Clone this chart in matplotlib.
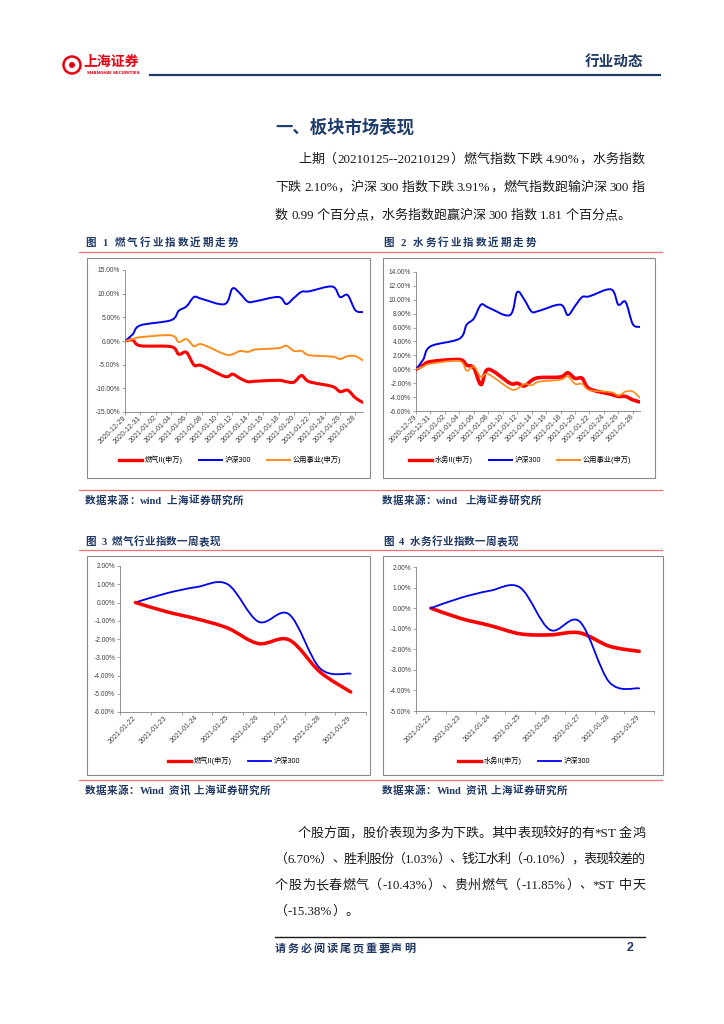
import re
import numpy as np
import matplotlib
matplotlib.use("Agg")
import matplotlib.pyplot as plt
import matplotlib.dates as mdates
from matplotlib.path import Path
from matplotlib.patches import PathPatch, Rectangle, Circle
from matplotlib.lines import Line2D

# ---------------- data ----------------
month_dates = ['2020-12-29', '2020-12-30', '2020-12-31', '2021-01-04', '2021-01-05',
               '2021-01-06', '2021-01-07', '2021-01-08', '2021-01-11', '2021-01-12',
               '2021-01-13', '2021-01-14', '2021-01-15', '2021-01-18', '2021-01-19',
               '2021-01-20', '2021-01-21', '2021-01-22', '2021-01-25', '2021-01-26',
               '2021-01-27', '2021-01-28', '2021-01-29']
hs300_month = [0, 1.4, 3.3, 4.4, 6.4, 7.3, 9.3, 8.9, 7.8, 11.1, 10.0, 8.3,
               8.4, 9.3, 7.8, 9.1, 10.4, 10.5, 11.5, 9.3, 9.7, 6.5, 6.1]
gas_month = [0, 0.2, -1.0, -1.2, -2.8, -2.4, -5.1, -5.2, -7.5, -7.0, -7.9, -8.6,
             -8.5, -8.3, -8.6, -8.7, -7.3, -8.6, -9.6, -10.7, -10.4, -12.0, -13.0]
utility_month = [0, 0.4, 0.8, 1.2, -0.2, 0.4, -1.1, -0.7, -2.8, -2.8, -2.1, -2.3,
                 -1.8, -1.5, -1.0, -2.1, -2.1, -3.0, -3.3, -3.8, -3.2, -3.2, -4.1]
water_month = [0, 0.6, 1.1, 1.4, 0.6, 0.2, -2.2, 0.0, -2.0, -2.0, -2.4, -1.6,
               -1.2, -1.1, -0.5, -1.3, -1.3, -2.8, -3.6, -3.9, -3.9, -4.4, -4.7]

week_dates = ['2021-01-22', '2021-01-23', '2021-01-24', '2021-01-25',
              '2021-01-26', '2021-01-27', '2021-01-28', '2021-01-29']
gas_week = [0, -0.5, -0.9, -1.4, -2.25, -2.05, -3.8, -4.9]
hs300_week = [0, 0.5, 0.85, 1.0, -1.05, -0.65, -3.6, -3.9]
water_week = [0, -0.5, -0.85, -1.25, -1.3, -1.2, -1.85, -2.1]

label_gas = '燃气II(申万)'
label_water = '水务II(申万)'
label_hs = '沪深300'
label_util = '公用事业(申万)'

# ---------------- figure helpers ----------------
W, H = 724, 1024
plt.rcParams['font.family'] = ['Noto Sans CJK SC', 'DejaVu Sans']
fig = plt.figure(figsize=(W / 100, H / 100), dpi=100)
renderer = fig.canvas.get_renderer()

NAVY = '#1F3864'
RED = '#FF0000'
BLUE = '#0000F0'
ORANGE = '#FF8C1A'
SERIF = ['Liberation Serif', 'Noto Sans CJK SC']
SANS = ['Liberation Sans', 'Noto Sans CJK SC']


def fx(x):
    return x / W


def fy(y):
    return 1 - y / H


def ftext(x, y, s, **kw):
    kw.setdefault('va', 'center')
    return fig.text(fx(x), fy(y), s, **kw)


def hline(x0, x1, y, color, lw):
    fig.add_artist(Line2D([fx(x0), fx(x1)], [fy(y), fy(y)],
                          transform=fig.transFigure, color=color, lw=lw))


def box(x0, y0, x1, y1):
    fig.add_artist(Rectangle((fx(x0), fy(y1)), fx(x1) - fx(x0), fy(y0) - fy(y1),
                             transform=fig.transFigure, fill=False,
                             ec='#8a8a8a', lw=0.8))


def add_ax(l, t, r, b):
    return fig.add_axes([fx(l), fy(b), fx(r) - fx(l), fy(t) - fy(b)])


def para_line(x0, x1, y, s, justify=True, size=9.4, color='#1a1a1a',
              weight='normal', family=SERIF, space=3.0):
    """Place a line of text token by token (y = visual middle of the line)."""
    toks = re.findall(r'[!-~]+| +|[^ !-~]', s)
    base = y + 0.36 * size * 100 / 72
    items = []
    for t in toks:
        if t.strip() == '':
            items.append((None, space * len(t)))
        else:
            tx = fig.text(0, 0, t, fontsize=size, family=family, color=color,
                          weight=weight, va='baseline')
            items.append((tx, tx.get_window_extent(renderer).width))
    total = sum(w for _, w in items)
    gaps = len(items) - 1
    extra = (x1 - x0 - total) / gaps if (justify and gaps > 0) else 0.0
    x = x0
    for obj, w in items:
        if obj is not None:
            obj.set_position((fx(x), fy(base)))
        x += w + extra


def smooth(ax, x, y, color, lw, z=3):
    x = np.asarray(x, float)
    y = np.asarray(y, float)
    n = len(x)
    verts = [(x[0], y[0])]
    codes = [Path.MOVETO]
    for i in range(n - 1):
        p0 = i - 1 if i > 0 else i
        p3 = i + 2 if i + 2 < n else i + 1
        c1 = (x[i] + (x[i + 1] - x[p0]) / 6, y[i] + (y[i + 1] - y[p0]) / 6)
        c2 = (x[i + 1] - (x[p3] - x[i]) / 6, y[i + 1] - (y[p3] - y[i]) / 6)
        verts += [c1, c2, (x[i + 1], y[i + 1])]
        codes += [Path.CURVE4] * 3
    ax.add_patch(PathPatch(Path(verts, codes), fill=False, ec=color, lw=lw,
                           capstyle='round', joinstyle='round', zorder=z))


def style_ax(ax, yticks):
    for s in ['top', 'right']:
        ax.spines[s].set_visible(False)
    for s in ['left', 'bottom']:
        ax.spines[s].set_color('#7f7f7f')
        ax.spines[s].set_linewidth(0.6)
    ax.set_facecolor('none')
    ax.set_ylim(yticks[0], yticks[-1])
    ax.set_yticks(yticks)
    ax.set_yticklabels([f'{v:.2f}%' for v in yticks], family='Liberation Sans')
    ax.tick_params(axis='both', which='both', direction='out', length=2, width=0.5,
                   color='#7f7f7f', labelsize=4.8, labelcolor='#404040', pad=1.5)


def legend(ax, handles, labels, cx, cy):
    ax.legend(handles, labels, loc='center', bbox_to_anchor=(fx(cx), fy(cy)),
              bbox_transform=fig.transFigure, ncol=len(labels), frameon=False,
              prop={'family': SANS, 'size': 5.2}, handlelength=3.2,
              handletextpad=0.4, columnspacing=2.2, borderpad=0)


# ---------------- page header ----------------
fig.add_artist(Circle((72 / 100, (H - 65) / 100), 0.085, transform=fig.dpi_scale_trans,
                      fill=False, ec='#E60012', lw=1.8))
fig.add_artist(Circle((72 / 100, (H - 65) / 100), 0.03, transform=fig.dpi_scale_trans,
                      fill=True, fc='#E60012', ec='none'))
ftext(83, 62, '上海证券', fontsize=10, color='#E60012', weight='bold')
ftext(87, 73, 'SHANGHAI SECURITIES', fontsize=3.0, color='#E60012', weight='bold',
      family='DejaVu Sans')
ftext(585, 61, '行业动态', fontsize=10.5, color=NAVY, weight='bold')
hline(150, 660, 75, NAVY, 1.6)

# ---------------- section title & paragraph ----------------
ftext(275, 128, '一、板块市场表现', fontsize=12.5, color='#1F3D6B', weight='bold')
para_line(298, 645, 158, '上期（20210125--20210129）燃气指数下跌 4.90%，水务指数')
para_line(275, 645, 186, '下跌 2.10%，沪深 300 指数下跌 3.91%，燃气指数跑输沪深 300 指')
para_line(275, 645, 214, '数 0.99 个百分点，水务指数跑赢沪深 300 指数 1.81 个百分点。',
          justify=False)

# ---------------- captions / rules ----------------
cap_kw = dict(size=7.6, color=NAVY, weight='bold', family=SERIF)
para_line(85, 238, 242, '图 1 燃气行业指数近期走势', **cap_kw)
para_line(383, 536, 242, '图 2 水务行业指数近期走势', **cap_kw)
para_line(85, 220, 541, '图 3 燃气行业指数一周表现', space=5, **cap_kw)
para_line(383, 518, 541, '图 4 水务行业指数一周表现', space=5, **cap_kw)
for yy in (252, 490, 550, 780):
    hline(79, 662, yy, '#FF7070', 0.9)
para_line(85, 243, 500, '数据来源：wind 上海证券研究所', **cap_kw)
para_line(382, 541, 500, '数据来源：wind  上海证券研究所', **cap_kw)
para_line(85, 270, 790, '数据来源：Wind 资讯 上海证券研究所', **cap_kw)
para_line(382, 567, 790, '数据来源：Wind 资讯 上海证券研究所', **cap_kw)

box(87, 258, 370, 478)
box(383, 258, 655, 478)
box(87, 556, 370, 775)
box(383, 556, 663, 775)

# ---------------- monthly charts ----------------
mx = mdates.date2num(np.array(month_dates, dtype='datetime64[D]'))
x0 = mdates.date2num(np.datetime64('2020-12-29'))
x1 = mdates.date2num(np.datetime64('2021-01-29'))
date_ticks = np.arange(x0, x1, 2)

ax1 = add_ax(125, 270, 363, 412)
style_ax(ax1, list(range(-15, 16, 5)))
ax1.set_xlim(x0, x1)
smooth(ax1, mx, gas_month, RED, 2.2, 3)
smooth(ax1, mx, hs300_month, BLUE, 1.4, 4)
smooth(ax1, mx, utility_month, ORANGE, 1.4, 5)

ax2 = add_ax(416, 272, 640, 411)
style_ax(ax2, list(range(-6, 15, 2)))
ax2.set_xlim(x0, x1)
smooth(ax2, mx, water_month, RED, 2.6, 3)
smooth(ax2, mx, hs300_month, BLUE, 1.4, 4)
smooth(ax2, mx, utility_month, ORANGE, 1.2, 5)

for ax in (ax1, ax2):
    ax.set_xticks(date_ticks)
    ax.set_xticklabels([mdates.num2date(d).strftime('%Y-%m-%d') for d in date_ticks],
                       rotation=45, ha='right', va='center', rotation_mode='anchor',
                       family='Liberation Sans', fontsize=5)

h_red = Line2D([], [], color=RED, lw=2.4)
h_blue = Line2D([], [], color=BLUE, lw=1.4)
h_or = Line2D([], [], color=ORANGE, lw=1.4)
legend(ax1, [h_red, h_blue, h_or], [label_gas, label_hs, label_util], 230, 460)
legend(ax2, [h_red, h_blue, h_or], [label_water, label_hs, label_util], 520, 460)

# ---------------- weekly charts ----------------
wx = np.arange(len(week_dates))
ax3 = add_ax(120, 566, 366, 712)
style_ax(ax3, list(range(-6, 3, 1)))
smooth(ax3, wx, hs300_week, BLUE, 1.3, 3)
smooth(ax3, wx, gas_week, RED, 2.5, 4)

ax4 = add_ax(416, 567, 654, 711)
style_ax(ax4, list(range(-5, 3, 1)))
smooth(ax4, wx, water_week, RED, 2.6, 3)
smooth(ax4, wx, hs300_week, BLUE, 1.3, 4)

for ax in (ax3, ax4):
    ax.set_xlim(-0.5, len(week_dates) - 0.5)
    ax.set_xticks(wx)
    ax.set_xticklabels(week_dates, rotation=45, ha='right', va='center',
                       rotation_mode='anchor', family='Liberation Sans', fontsize=5)
    ax.set_xticks(np.arange(-0.5, len(week_dates), 1), minor=True)
    ax.tick_params(axis='x', which='major', length=0, pad=3.5)
    ax.tick_params(axis='x', which='minor', length=2.5)

legend(ax3, [Line2D([], [], color=RED, lw=2.4), Line2D([], [], color=BLUE, lw=1.3)],
       [label_gas, label_hs], 234, 761)
legend(ax4, [Line2D([], [], color=RED, lw=2.4), Line2D([], [], color=BLUE, lw=1.3)],
       [label_water, label_hs], 524, 761)

# ---------------- second paragraph ----------------
para_line(298, 645, 832, '个股方面，股价表现为多为下跌。其中表现较好的有*ST 金鸿')
para_line(275, 645, 858, '（6.70%）、胜利股份（1.03%）、钱江水利（-0.10%），表现较差的')
para_line(275, 645, 884, '个股为长春燃气（-10.43%）、贵州燃气（-11.85%）、*ST 中天')
para_line(275, 645, 910, '（-15.38%）。', justify=False)

# ---------------- footer ----------------
hline(275, 645, 937, '#1a1a1a', 1.0)
para_line(275, 415, 948, '请务必阅读尾页重要声明', size=8, color=NAVY, weight='bold')
ftext(627, 948, '2', fontsize=9, color=NAVY, weight='bold', family='Liberation Sans')

fig.savefig('out.png', dpi=100)
